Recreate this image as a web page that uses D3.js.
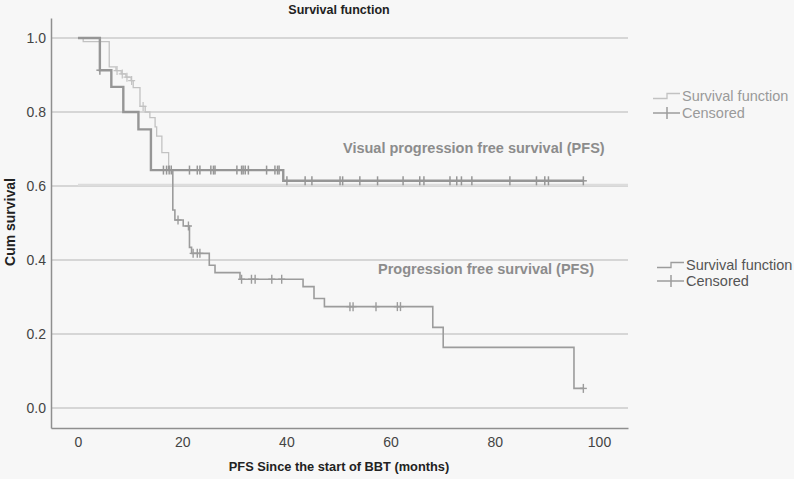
<!DOCTYPE html>
<html>
<head>
<meta charset="utf-8">
<script src="https://cdn.jsdelivr.net/npm/d3@7"></script>
<style>
  html, body { margin: 0; padding: 0; background: #f7f7f7; }
  svg { display: block; font-family: "Liberation Sans", Arial, Helvetica, sans-serif; }
</style>
</head>
<body>
<svg id="chart" width="794" height="479"></svg>
<script>
// ---- data ----
const xTicks = [0, 20, 40, 60, 80, 100];
const yTicks = [0.0, 0.2, 0.4, 0.6, 0.8, 1.0];

// Visual progression free survival (PFS)
const vpfsTimes = [0, 4.2, 6.4, 8.7, 11.6, 14.0, 39.4];
const vpfsSurv  = [1.0, 0.913, 0.868, 0.80, 0.753, 0.643, 0.614];
const vpfsEnd = 97.0;
const vpfsCensor = [4.2, 16.4, 17.0, 17.5, 17.9, 21.4, 22.9, 23.4, 25.5, 26.0, 26.3, 30.5, 31.4, 31.7, 32.1, 32.7,
  36.2, 37.8, 38.3, 38.6, 40.1, 43.6, 44.9, 50.3, 50.8, 54.1, 57.5, 62.4, 65.6, 66.4, 71.4, 72.7, 73.6,
  75.6, 82.9, 88.0, 89.6, 90.3, 97.0];

// Progression free survival (PFS)
const pfsTimes = [0, 1.0, 6.0, 7.3, 8.3, 9.2, 10.2, 10.6, 11.9, 12.9, 13.8, 14.8, 15.1, 16.1, 17.4, 18.2, 18.6,
  20.2, 21.4, 21.8, 25.2, 26.3, 31.1, 43.2, 45.3, 47.3, 68.1, 70.1, 95.2];
const pfsSurv  = [1.0, 0.99, 0.922, 0.912, 0.903, 0.894, 0.885, 0.866, 0.815, 0.80, 0.785, 0.76, 0.735, 0.69,
  0.643, 0.535, 0.508, 0.492, 0.434, 0.418, 0.386, 0.366, 0.348, 0.328, 0.296, 0.274, 0.218, 0.164, 0.053];
const pfsEnd = 97.0;
const pfsCensor = [7.5, 8.5, 9.4, 10.3, 12.5, 19.2, 21.2, 22.1, 22.9, 23.4, 31.4, 33.3, 34.0, 37.2, 39.1,
  52.2, 52.8, 57.2, 61.3, 61.9, 97.0];

// ---- chart ----
const svg = d3.select("#chart");
const x = d3.scaleLinear().domain([-5.18, 105.57]).range([51, 628]);
const y = d3.scaleLinear().domain([-0.054, 1.054]).range([428, 18]);

svg.append("rect").attr("width", 794).attr("height", 479).attr("fill", "#f7f7f7");

// gridlines
svg.append("g").selectAll("line").data(yTicks).join("line")
  .attr("x1", x.range()[0]).attr("x2", x.range()[1])
  .attr("y1", d => y(d)).attr("y2", d => y(d))
  .attr("stroke", "#cbcbcb").attr("stroke-width", 1.5);
// light band on the 0.6 line
svg.append("line")
  .attr("x1", x(0)).attr("x2", x.range()[1])
  .attr("y1", y(0.6) - 1).attr("y2", y(0.6) - 1)
  .attr("stroke", "#dcdcdc").attr("stroke-width", 2.5);

// axes
const gx = svg.append("g").attr("transform", `translate(0,${y.range()[0]})`)
  .call(d3.axisBottom(x).tickValues(xTicks).tickSize(0).tickPadding(9).tickFormat(d3.format("d")));
const gy = svg.append("g").attr("transform", `translate(${x.range()[0]},0)`)
  .call(d3.axisLeft(y).tickValues(yTicks).tickSize(0).tickPadding(5).tickFormat(d3.format(".1f")));
[gx, gy].forEach(g => {
  g.select(".domain").attr("stroke", "#8f8f8f").attr("stroke-width", 1.5);
  g.selectAll("text").attr("font-size", 14).attr("fill", "#444").attr("font-family", "Liberation Sans, Arial, sans-serif");
});

function stepPts(times, surv, end) {
  const pts = times.map((t, i) => [t, surv[i]]);
  pts.push([end, surv[surv.length - 1]]);
  return pts;
}
function survAt(times, surv, t) {
  let v = surv[0];
  for (let i = 0; i < times.length; i++) if (times[i] <= t + 1e-9) v = surv[i];
  return v;
}
const line = d3.line().x(d => x(d[0])).y(d => y(d[1])).curve(d3.curveStepAfter);

// clip regions for PFS curve (upper part lighter)
const defs = svg.append("defs");
defs.append("clipPath").attr("id", "upper").append("rect")
  .attr("x", 0).attr("y", 0).attr("width", 794).attr("height", y(0.655));
defs.append("clipPath").attr("id", "lower").append("rect")
  .attr("x", 0).attr("y", y(0.655)).attr("width", 794).attr("height", 479);

const pfsPts = stepPts(pfsTimes, pfsSurv, pfsEnd);
function plusMarks(g, times, tArr, sArr, color, w) {
  const sel = g.selectAll("g.c").data(times).join("g").attr("class", "c")
    .attr("transform", d => `translate(${x(d)},${y(survAt(tArr, sArr, d))})`);
  sel.append("line").attr("x1", 0).attr("x2", 0).attr("y1", -4.5).attr("y2", 4.5)
    .attr("stroke", color).attr("stroke-width", w);
  sel.append("line").attr("x1", -3.5).attr("x2", 3.5).attr("y1", 0).attr("y2", 0)
    .attr("stroke", color).attr("stroke-width", w);
}

// PFS curve upper (light)
const gu = svg.append("g").attr("clip-path", "url(#upper)");
gu.append("path").attr("d", line(pfsPts)).attr("fill", "none").attr("stroke", "#c2c2c2").attr("stroke-width", 1.3);
plusMarks(gu, pfsCensor, pfsTimes, pfsSurv, "#c2c2c2", 1.2);
// PFS curve lower (medium)
const gl = svg.append("g").attr("clip-path", "url(#lower)");
gl.append("path").attr("d", line(pfsPts)).attr("fill", "none").attr("stroke", "#9c9c9c").attr("stroke-width", 1.6);
plusMarks(gl, pfsCensor, pfsTimes, pfsSurv, "#9c9c9c", 1.4);

// Visual PFS curve
const gv = svg.append("g");
gv.append("path").attr("d", line(stepPts(vpfsTimes, vpfsSurv, vpfsEnd)))
  .attr("fill", "none").attr("stroke", "#969696").attr("stroke-width", 2.4);
plusMarks(gv, vpfsCensor, vpfsTimes, vpfsSurv, "#969696", 1.5);

// labels
svg.append("text").attr("x", 339).attr("y", 14).attr("text-anchor", "middle")
  .attr("font-size", 12.5).attr("font-weight", "bold").attr("fill", "#222").text("Survival function");
svg.append("text").attr("x", 339).attr("y", 471).attr("text-anchor", "middle")
  .attr("font-size", 12.8).attr("font-weight", "bold").attr("fill", "#222").text("PFS Since the start of BBT (months)");
svg.append("text").attr("transform", "translate(15,222) rotate(-90)").attr("text-anchor", "middle")
  .attr("font-size", 14).attr("font-weight", "bold").attr("fill", "#222").text("Cum survival");

svg.append("text").attr("x", 343).attr("y", 153).attr("font-size", 14.5).attr("font-weight", "bold")
  .attr("fill", "#8c8c8c").text("Visual progression free survival (PFS)");
svg.append("text").attr("x", 378).attr("y", 274).attr("font-size", 14.5).attr("font-weight", "bold")
  .attr("fill", "#8c8c8c").text("Progression free survival (PFS)");

// legends
function legend(x0, yS, yC, symColor, censColor, textColor) {
  const g = svg.append("g");
  g.append("path").attr("d", `M${x0},${yS + 2.5}H${x0 + 14}V${yS - 2.5}H${x0 + 27}`)
    .attr("fill", "none").attr("stroke", symColor).attr("stroke-width", 1.3);
  g.append("line").attr("x1", x0).attr("x2", x0 + 27).attr("y1", yC).attr("y2", yC)
    .attr("stroke", censColor).attr("stroke-width", 1.5);
  g.append("line").attr("x1", x0 + 14).attr("x2", x0 + 14).attr("y1", yC - 6).attr("y2", yC + 6)
    .attr("stroke", censColor).attr("stroke-width", 1.5);
  g.append("text").attr("x", x0 + 29).attr("y", yS).attr("dy", "0.35em").attr("font-size", 14.5)
    .attr("fill", textColor).text("Survival function");
  g.append("text").attr("x", x0 + 29).attr("y", yC).attr("dy", "0.35em").attr("font-size", 14.5)
    .attr("fill", textColor).text("Censored");
}
legend(653, 96, 113, "#c2c2c2", "#9c9c9c", "#9a9a9a");
legend(657, 265, 281, "#9c9c9c", "#9c9c9c", "#555");
</script>
</body>
</html>
